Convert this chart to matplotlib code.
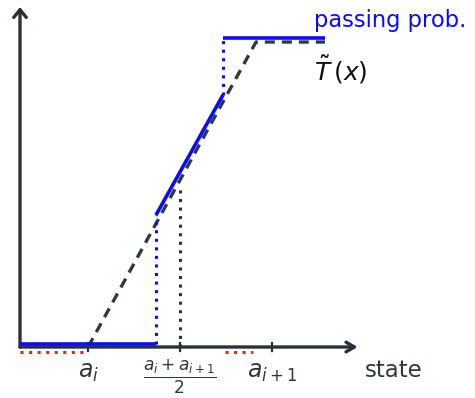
import matplotlib
matplotlib.use("Agg")
import matplotlib.pyplot as plt

plt.rcParams["mathtext.fontset"] = "dejavusans"

# state axis positions (units of half an interval)
a_i = 0.74
a_mid = 1.74
a_next = 2.74
x_arrow_end = 3.67
y_arrow_end = 1.10

# passing probability: piecewise, with a linear ramp between two jumps
pass_x = [0.0, 1.478, 1.478, 2.207, 2.207, 3.315]
pass_y = [0.01, 0.01, 0.427, 0.816, 1.0, 1.0]
pass_solid = [(0, 1), (2, 3), (4, 5)]
pass_dotted = [(1, 2), (3, 4)]

# linear approximation T~(x)
t_x = [a_i, 2.565, 3.315]
t_y = [0.0, 0.987, 0.987]

# marker at the interval midpoint
mid_top = 0.51

# red ranges below the axis
red_ranges = [(0.0, 0.685), (2.228, 2.533)]
red_y = -0.016

axis_col = "#263238"
blue = "#0a0aff"
dots = (0, (1, 1.8))

fig = plt.figure(figsize=(4.75, 3.98), dpi=100)
ax = fig.add_axes([0, 0, 1, 1])
ax.set_xlim(-20 / 92, 455 / 92)
ax.set_ylim(-51 / 309, 347 / 309)
ax.axis("off")

# axes with arrow heads
ax.annotate("", xy=(x_arrow_end, 0), xytext=(0, 0),
            arrowprops=dict(arrowstyle="->,head_length=0.6,head_width=0.35",
                            color=axis_col, lw=2.4, shrinkA=0, shrinkB=0))
ax.annotate("", xy=(0, y_arrow_end), xytext=(0, 0),
            arrowprops=dict(arrowstyle="->,head_length=0.55,head_width=0.45",
                            color=axis_col, lw=2.4, shrinkA=0, shrinkB=0))

# ticks
for xt in (a_i, a_mid, a_next):
    ax.plot([xt, xt], [-0.012, 0.012], color=axis_col, lw=1.6, zorder=3)

# red dotted ranges
for x0, x1 in red_ranges:
    ax.plot([x0, x1], [red_y, red_y], color="#ff1a1a", lw=2.2,
            linestyle=dots, zorder=2)

# midpoint dotted guide
ax.plot([a_mid, a_mid], [0, mid_top], color=axis_col, lw=2.2,
        linestyle=dots, zorder=2)

# T~(x) dashed
ax.plot(t_x, t_y, color="#2f3b3b", lw=2.4, linestyle=(0, (3.0, 2.1)), zorder=3)

# passing probability
for i, j in pass_solid:
    ax.plot(pass_x[i:j + 1], pass_y[i:j + 1], color=blue, lw=2.6,
            solid_capstyle="butt", zorder=4)
for i, j in pass_dotted:
    ax.plot(pass_x[i:j + 1], pass_y[i:j + 1], color=blue, lw=2.2,
            linestyle=dots, zorder=4)

# labels
lab_col = "#2e3a3a"
ax.text(a_i, -0.042, r"$a_i$", ha="center", va="top", fontsize=17, color=lab_col)
ax.text(a_mid, -0.035, r"$\frac{a_i+a_{i+1}}{2}$", ha="center", va="top",
        fontsize=17.5, color=lab_col)
ax.text(a_next, -0.042, r"$a_{i+1}$", ha="center", va="top", fontsize=17,
        color=lab_col)
ax.text(3.75, -0.075, "state", ha="left", va="center", fontsize=16.5, color=lab_col)
ax.text(3.2, 1.058, "passing prob.", ha="left", va="center", fontsize=16.3,
        color=blue)
ax.text(3.2, 0.895, r"$\tilde{T}\,(x)$", ha="left", va="center", fontsize=18,
        color="#111111")

fig.savefig("out.png", dpi=100)
